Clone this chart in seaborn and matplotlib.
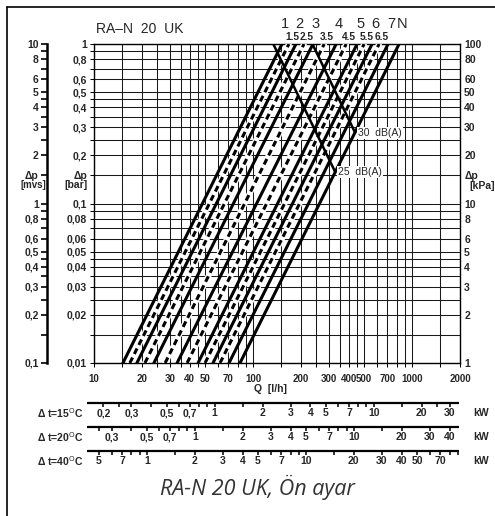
import numpy as np
import pandas as pd
import matplotlib
matplotlib.use("Agg")
import matplotlib.pyplot as plt
import seaborn as sns
from matplotlib.lines import Line2D
from matplotlib.ticker import NullLocator, NullFormatter
from matplotlib.transforms import blended_transform_factory, offset_copy

# ---------------- data ----------------
presets = ["1", "1.5", "2", "2.5", "3", "3.5", "4", "4.5", "5", "5.5", "6", "6.5", "7", "N"]
q_low = [15.2, 16.8, 18.6, 20.9, 23.8, 28.0, 33.3, 38.5, 45.1, 49.9, 56.0, 62.0, 70.6, 82.8]   # l/h at 0.01 bar
q_high = [152, 168, 186, 209, 238, 280, 333, 385, 451, 499, 560, 620, 706, 828]              # l/h at 1 bar
dp_low, dp_high = 0.01, 1.0

db25_q = [134, 328]
db25_dp = [1.0, 0.158]
db30_q = [238, 438]
db30_dp = [0.985, 0.278]

x_major = [10, 20, 30, 40, 50, 70, 100, 200, 300, 400, 500, 700, 1000, 2000]
x_minor = [15, 25, 35, 45, 60, 80, 90, 150, 250, 350, 450, 600, 800, 900, 1500]

bar_major = [1, 0.8, 0.6, 0.5, 0.4, 0.3, 0.2, 0.15, 0.1, 0.08, 0.06, 0.05, 0.04, 0.03, 0.02, 0.01]
bar_labels = ["1", "0,8", "0,6", "0,5", "0,4", "0,3", "0,2", "Δp", "0,1", "0,08", "0,06", "0,05",
              "0,04", "0,03", "0,02", "0,01"]
bar_minor = [0.9, 0.7, 0.45, 0.35, 0.25, 0.09, 0.07, 0.045, 0.035, 0.025, 0.015]

mvs_major = [10, 8, 6, 5, 4, 3, 2, 1.5, 1, 0.8, 0.6, 0.5, 0.4, 0.3, 0.2, 0.1]
mvs_labels = ["10", "8", "6", "5", "4", "3", "2", "Δp", "1", "0,8", "0,6", "0,5", "0,4", "0,3", "0,2", "0,1"]
mvs_minor = [9, 7, 4.5, 3.5, 2.5, 0.9, 0.7, 0.45, 0.35, 0.25, 0.15]

kpa_major = [100, 80, 60, 50, 40, 30, 20, 15, 10, 8, 6, 5, 4, 3, 2, 1]
kpa_labels = ["100", "80", "60", "50", "40", "30", "20", "Δp", "10", "8", "6", "5", "4", "3", "2", "1"]

dt_values = [15, 20, 40]
kw15_ticks = [0.2, 0.25, 0.3, 0.4, 0.5, 0.6, 0.7, 0.8, 0.9, 1, 1.5, 2, 3, 4, 5, 6, 7, 8, 9, 10, 15, 20, 25, 30]
kw15_labels = [0.2, 0.3, 0.5, 0.7, 1, 2, 3, 4, 5, 7, 10, 20, 30]
kw15_text = ["0,2", "0,3", "0,5", "0,7", "1", "2", "3", "4", "5", "7", "10", "20", "30"]
kw20_ticks = [0.25, 0.3, 0.4, 0.5, 0.6, 0.7, 0.8, 0.9, 1, 1.5, 2, 3, 4, 5, 6, 7, 8, 9, 10, 15, 20, 30, 40]
kw20_labels = [0.3, 0.5, 0.7, 1, 2, 3, 4, 5, 7, 10, 20, 30, 40]
kw20_text = ["0,3", "0,5", "0,7", "1", "2", "3", "4", "5", "7", "10", "20", "30", "40"]
kw40_ticks = [0.5, 0.6, 0.7, 0.8, 0.9, 1, 1.5, 2, 3, 4, 5, 6, 7, 8, 9, 10, 15, 20, 30, 40, 50, 60, 70, 80, 90]
kw40_labels = [0.5, 0.7, 1, 2, 3, 4, 5, 7, 10, 20, 30, 40, 50, 70]
kw40_text = ["5", "7", "1", "2", "3", "4", "5", "7", "10", "20", "30", "40", "50", "70"]

# ---------------- style ----------------
sns.set_theme(style="white")
plt.rcParams['font.family'] = ['Liberation Sans', 'DejaVu Sans']
plt.rcParams['mathtext.fontset'] = 'dejavusans'

W, H = 495, 516
fig = plt.figure(figsize=(W / 100, H / 100), dpi=100)
fig.patch.set_facecolor('white')


def fx(px):
    return px / W


def fy(py):
    return 1 - py / H


L, R, T, B = 94, 460, 44, 363
ax = fig.add_axes([fx(L), fy(B), (R - L) / W, (B - T) / H])
ax.set_facecolor('white')

rows = []
for p, ql, qh in zip(presets, q_low, q_high):
    kind = 'half' if '.' in p else 'full'
    rows.append(dict(preset=p, kind=kind, Q=ql, dp=dp_low))
    rows.append(dict(preset=p, kind=kind, Q=qh, dp=dp_high))
df = pd.DataFrame(rows)

sns.lineplot(data=df[df.kind == 'half'], x='Q', y='dp', units='preset', estimator=None,
             color='white', lw=4.2, ax=ax, legend=False, sort=False, zorder=3)
sns.lineplot(data=df, x='Q', y='dp', units='preset', estimator=None, style='kind',
             dashes={'full': '', 'half': (2.0, 1.3)}, color='black', lw=2.2,
             ax=ax, legend=False, sort=False, zorder=4)

dbdf = pd.DataFrame({'Q': db25_q + db30_q, 'dp': db25_dp + db30_dp,
                     'level': ['25'] * len(db25_q) + ['30'] * len(db30_q)})
sns.lineplot(data=dbdf, x='Q', y='dp', units='level', estimator=None, color='black',
             lw=1.8, ax=ax, legend=False, sort=False, zorder=4)

ax.set_xscale('log')
ax.set_yscale('log')
ax.set_xlim(10, 2000)
ax.set_ylim(0.01, 1)
ax.set_xlabel('')
ax.set_ylabel('')

ax.set_xticks(x_major)
ax.set_xticklabels([str(v) for v in x_major])
ax.set_xticks(x_minor, minor=True)
ax.xaxis.set_minor_formatter(NullFormatter())
ax.set_yticks(bar_major)
ax.set_yticklabels(bar_labels)
ax.set_yticks(bar_minor, minor=True)
ax.yaxis.set_minor_formatter(NullFormatter())
ax.set_axisbelow(True)
ax.grid(which='both', color='#1a1a1a', lw=0.75)
ax.tick_params(which='both', direction='out', length=3, width=0.75, color='black',
               labelsize=7.5, bottom=True, left=True)
ax.tick_params(axis='x', pad=5, labelsize=7)
ax.tick_params(axis='y', pad=2)
for lab in ax.get_xticklabels() + ax.get_yticklabels():
    lab.set_fontweight('bold')
for s in ax.spines.values():
    s.set_color('black')
    s.set_linewidth(1.0)

# right kPa axis
ax_r = ax.twinx()
ax_r.set_yscale('log')
ax_r.set_ylim(1, 100)
ax_r.set_yticks(kpa_major)
ax_r.set_yticklabels(kpa_labels)
ax_r.yaxis.set_minor_locator(NullLocator())
ax_r.tick_params(axis='y', length=0, pad=3, labelsize=7.5)
for lab in ax_r.get_yticklabels():
    lab.set_fontweight('bold')
for s in ax_r.spines.values():
    s.set_visible(False)

# left mvs axis
ax_m = fig.add_axes([fx(47), fy(B), 0.0001, (B - T) / H])
ax_m.set_yscale('log')
ax_m.set_ylim(0.1, 10)
ax_m.set_xticks([])
ax_m.set_yticks(mvs_major)
ax_m.set_yticklabels(mvs_labels)
ax_m.set_yticks(mvs_minor, minor=True)
ax_m.yaxis.set_minor_formatter(NullFormatter())
ax_m.tick_params(which='both', axis='y', direction='out', length=4, width=1.2, color='black',
                 labelsize=7.5, pad=2, left=True)
for lab in ax_m.get_yticklabels():
    lab.set_fontweight('bold')
for k, s in ax_m.spines.items():
    s.set_visible(k == 'left')
ax_m.spines['left'].set_linewidth(1.8)
ax_m.spines['left'].set_color('black')
ax_m.patch.set_visible(False)

# unit labels
tr_l = offset_copy(blended_transform_factory(ax.transAxes, ax.transData), fig=fig, x=-6, y=0, units='dots')
ax.text(0, 0.13, "[bar]", transform=tr_l, ha='right', va='center', fontsize=7.5, fontweight='bold')
tr_m = offset_copy(blended_transform_factory(ax_m.transAxes, ax_m.transData), fig=fig, x=-1, y=0, units='dots')
ax_m.text(0, 1.3, "[mvs]", transform=tr_m, ha='right', va='center', fontsize=7, fontweight='bold')
tr_r = offset_copy(blended_transform_factory(ax_r.transAxes, ax_r.transData), fig=fig, x=9, y=0, units='dots')
ax_r.text(1, 12.8, "[kPa]", transform=tr_r, ha='left', va='center', fontsize=7.5, fontweight='bold')

# preset labels at top
tr_top = offset_copy(blended_transform_factory(ax.transData, ax.transAxes), fig=fig, x=3, y=0, units='dots')
for p, qh in zip(presets, q_high):
    if '.' in p:
        ax.text(qh, 1.022, p, transform=tr_top, ha='center', va='center', fontsize=7.3,
                fontweight='bold', clip_on=False)
    else:
        ax.text(qh, 1.062, p, transform=tr_top, ha='center', va='center', fontsize=10.5,
                clip_on=False)

# dB labels
tr_db = offset_copy(ax.transData, fig=fig, x=3, y=0, units='dots')
for q, d, t in [(db25_q[-1], db25_dp[-1], "25  dB(A)"), (db30_q[-1], db30_dp[-1], "30  dB(A)")]:
    ax.text(q, d, t, transform=tr_db, ha='left', va='center', fontsize=7.5, zorder=5,
            bbox=dict(facecolor='white', edgecolor='none', pad=0.6))

# title
fig.text(fx(140), fy(29), "RA–N  20  UK", ha='center', va='center', fontsize=10)
fig.text(fx(270), fy(389), "Q  [l/h]", ha='center', va='center', fontsize=7.5, fontweight='bold')

# heat output scales
ax_s = fig.add_axes([fx(L), fy(472), (R - L) / W, (472 - 395) / H])
ax_s.set_xscale('log')
ax_s.set_xlim(10, 2000)
ax_s.set_ylim(472, 395)
ax_s.axis('off')
rows_y = [403, 427, 451]
scales = [(kw15_ticks, kw15_labels, kw15_text),
          (kw20_ticks, kw20_labels, kw20_text),
          (kw40_ticks, kw40_labels, kw40_text)]
for dt, y0, (tks, lbs, txt) in zip(dt_values, rows_y, scales):
    ax_s.plot([9.05, 1985], [y0, y0], color='black', lw=1.6, clip_on=False, solid_capstyle='butt')
    qt = np.array(tks) * 860.0 / dt
    ax_s.vlines(qt, y0, y0 + 4, color='black', lw=1.1, clip_on=False)
    ql = np.array(lbs) * 860.0 / dt
    for q, t in zip(ql, txt):
        ax_s.text(q, y0 + 10, t, ha='center', va='center', fontsize=7.5, fontweight='bold', clip_on=False)
    fig.text(fx(84), fy(y0 + 10), r"Δ t=%d$^{\mathrm{O}}$C" % dt, ha='right', va='center',
             fontsize=7.5, fontweight='bold')
    fig.text(fx(473), fy(y0 + 10), "kW", ha='left', va='center', fontsize=7.5, fontweight='bold')

# caption
fig.text(fx(257), fy(487), "RA-N 20 UK, Ön ayar", ha='center', va='center', fontsize=15.5,
         style='italic', family=['Open Sans', 'DejaVu Sans'], color='#333333')

# frame (left and top)
fig.add_artist(Line2D([fx(7), fx(7)], [0, fy(7)], transform=fig.transFigure, color='black', lw=1.2))
fig.add_artist(Line2D([fx(7), 1], [fy(7), fy(7)], transform=fig.transFigure, color='black', lw=1.2))

fig.savefig("out.png", dpi=100, facecolor='white')
